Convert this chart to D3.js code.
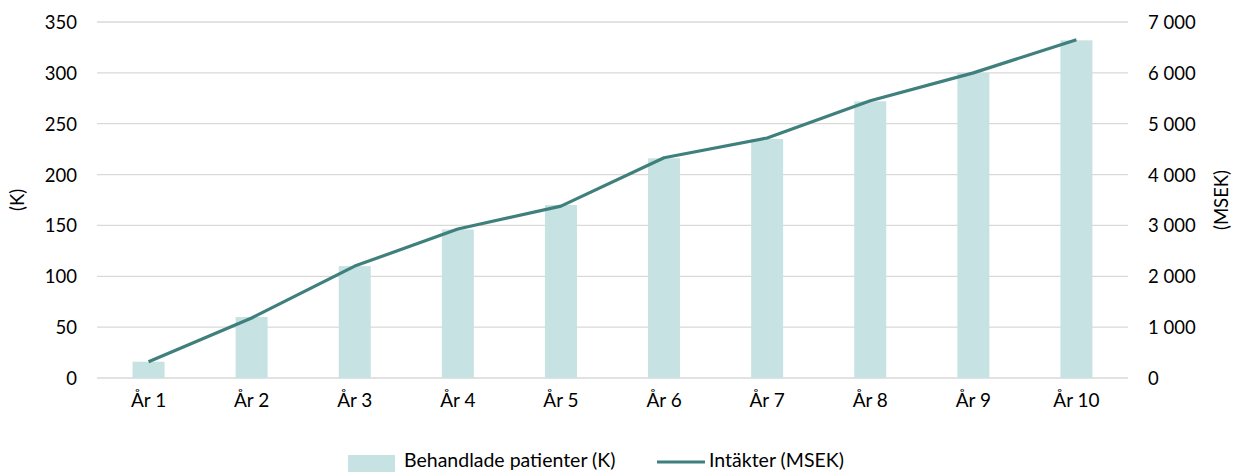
<!DOCTYPE html>
<html>
<head>
<meta charset="utf-8">
<script src="https://cdn.jsdelivr.net/npm/d3@7"></script>
<style>
  body { margin: 0; background: #fff; }
  text { font-family: Lato, "Open Sans", sans-serif; fill: #000; }
</style>
</head>
<body>
<svg id="chart" width="1233" height="472"></svg>
<script>
// data
var years = ["År 1", "År 2", "År 3", "År 4", "År 5", "År 6", "År 7", "År 8", "År 9", "År 10"];
var patients = [16, 60, 110, 146, 170, 216, 235, 272, 300, 332];
var revenue = [320, 1180, 2200, 2930, 3380, 4330, 4720, 5450, 6000, 6650];
var leftTicks = [0, 50, 100, 150, 200, 250, 300, 350];
var rightTicks = [0, 1000, 2000, 3000, 4000, 5000, 6000, 7000];

var barColor = "#c6e2e3";
var lineColor = "#3f7f7c";
var fontSize = "18.5px";

var svg = d3.select("#chart");

var plotLeft = 97, plotRight = 1128, plotTop = 22, plotBottom = 378;

var x = d3.scaleBand().domain(years).range([plotLeft, plotRight]).paddingInner(0.69).paddingOuter(0.345);
var yL = d3.scaleLinear().domain([0, 350]).range([plotBottom, plotTop]);
var yR = d3.scaleLinear().domain([0, 7000]).range([plotBottom, plotTop]);

var fmt = function (d) { return d3.format(",")(d).replace(/,/g, " "); };

// gridlines
svg.append("g").selectAll("line")
    .data(leftTicks)
    .join("line")
    .attr("x1", plotLeft).attr("x2", plotRight)
    .attr("y1", d => yL(d)).attr("y2", d => yL(d))
    .style("stroke", "#d9d9d9")
    .style("stroke-width", 1.3);

// bars
svg.append("g").selectAll("rect")
    .data(patients)
    .join("rect")
    .attr("x", (d, i) => x(years[i]))
    .attr("width", x.bandwidth())
    .attr("y", d => yL(d))
    .attr("height", d => plotBottom - yL(d))
    .style("fill", barColor);

// line
var line = d3.line()
    .x((d, i) => x(years[i]) + x.bandwidth() / 2)
    .y(d => yR(d));

svg.append("path")
    .datum(revenue)
    .attr("d", line)
    .style("fill", "none")
    .style("stroke", lineColor)
    .style("stroke-width", 3.2)
    .style("stroke-linejoin", "round");

// left axis
var axL = svg.append("g").attr("transform", "translate(" + (plotLeft - 20) + ",0)")
    .call(d3.axisLeft(yL).tickValues(leftTicks).tickSize(0).tickPadding(0));
axL.select(".domain").remove();
axL.selectAll("text").style("font-size", fontSize).attr("dy", "0.35em");

// right axis
var axR = svg.append("g").attr("transform", "translate(" + (plotRight + 20) + ",0)")
    .call(d3.axisRight(yR).tickValues(rightTicks).tickFormat(fmt).tickSize(0).tickPadding(0));
axR.select(".domain").remove();
axR.selectAll("text").style("font-size", fontSize).attr("dy", "0.35em");

// x axis
var axX = svg.append("g").attr("transform", "translate(0," + plotBottom + ")")
    .call(d3.axisBottom(x).tickSize(0).tickPadding(16));
axX.select(".domain").remove();
axX.selectAll("text").style("font-size", "19px");

svg.selectAll(".tick text").attr("fill", "#000");
svg.selectAll(".tick").attr("font-family", null);

// axis titles
svg.append("text")
    .attr("transform", "translate(24,200) rotate(-90)")
    .attr("text-anchor", "middle")
    .style("font-size", fontSize)
    .text("(K)");

svg.append("text")
    .attr("transform", "translate(1228,200) rotate(-90)")
    .attr("text-anchor", "middle")
    .style("font-size", fontSize)
    .text("(MSEK)");

// legend
var lg = svg.append("g");
lg.append("rect")
    .attr("x", 348).attr("y", 455).attr("width", 47).attr("height", 17)
    .style("fill", barColor);
lg.append("text")
    .attr("x", 404).attr("y", 467)
    .style("font-size", "19.5px")
    .text("Behandlade patienter (K)");
lg.append("line")
    .attr("x1", 657).attr("x2", 705).attr("y1", 462).attr("y2", 462)
    .style("stroke", lineColor)
    .style("stroke-width", 3.2);
lg.append("text")
    .attr("x", 709).attr("y", 467)
    .style("font-size", "19.5px")
    .text("Intäkter (MSEK)");
</script>
</body>
</html>
